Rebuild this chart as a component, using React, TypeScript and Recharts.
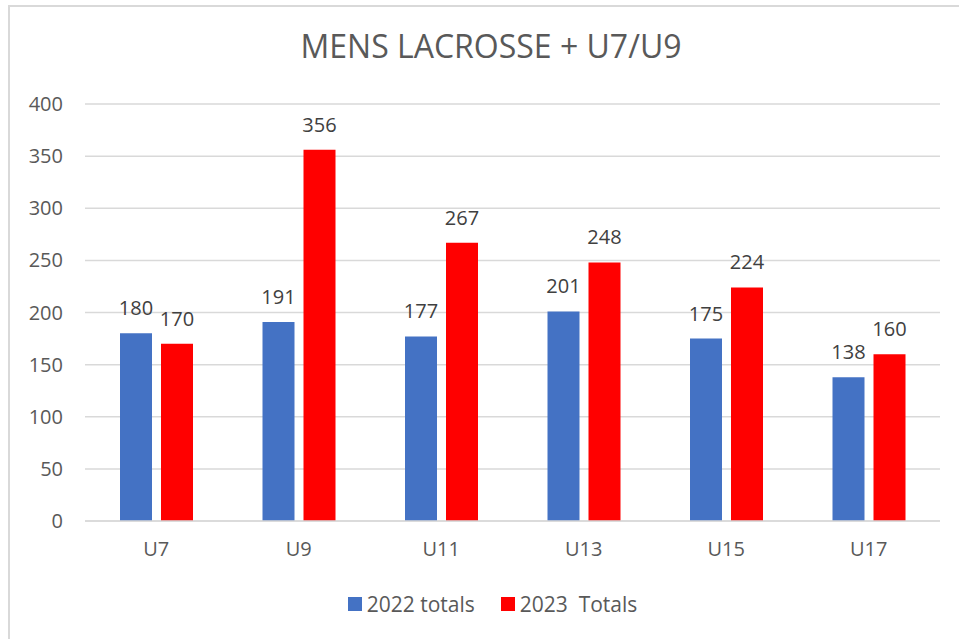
import React from 'react';
import { BarChart, Bar, XAxis, YAxis, CartesianGrid, LabelList } from 'recharts';

const categories = ['U7', 'U9', 'U11', 'U13', 'U15', 'U17'];
const totals2022 = [180, 191, 177, 201, 175, 138];
const totals2023 = [170, 356, 267, 248, 224, 160];
const yTicks = [0, 50, 100, 150, 200, 250, 300, 350, 400];

const series = [
  { key: 'y2022', name: '2022 totals', color: '#4472C4' },
  { key: 'y2023', name: '2023  Totals', color: '#FF0000' },
];

const data = categories.map((c, i) => ({ cat: c, y2022: totals2022[i], y2023: totals2023[i] }));

const FONT = '"Open Sans", Lato, sans-serif';
const TEXT = '#595959';

const LegendBox = () => (
  <div style={{ position: 'absolute', left: 0, top: 590, width: 959, display: 'flex', justifyContent: 'center', fontFamily: FONT, fontSize: 21, color: TEXT, paddingLeft: 26, boxSizing: 'border-box', lineHeight: '28px' }}>
    {series.map((s, i) => (
      <div key={s.key} style={{ display: 'flex', alignItems: 'center', marginLeft: i === 0 ? 0 : 26 }}>
        <span style={{ display: 'inline-block', width: 14, height: 14, background: s.color, marginRight: 5 }} />
        <span style={{ whiteSpace: 'pre' }}>{s.name}</span>
      </div>
    ))}
  </div>
);

export default function App() {
  return (
    <div style={{ position: 'absolute', left: 0, top: 0, width: 959, height: 639, background: '#fff', overflow: 'hidden' }}>
      <div style={{ position: 'absolute', left: 8, top: 5, width: 1000, height: 700, border: '2px solid #d9d9d9', boxSizing: 'border-box' }} />
      <div style={{ position: 'absolute', left: 0, top: 26, width: 982, textAlign: 'center', fontFamily: FONT, fontSize: 32, color: TEXT, lineHeight: '40px' }}>
        MENS LACROSSE + U7/U9
      </div>
      <div style={{ position: 'absolute', left: 0, top: 0 }}>
        <BarChart width={959} height={639} data={data} margin={{ top: 104, right: 19, bottom: 88, left: 0 }} barSize={32} barGap={9}>
          <CartesianGrid vertical={false} stroke="#d9d9d9" strokeWidth={1.5} />
          <XAxis dataKey="cat" height={30} axisLine={{ stroke: '#d9d9d9', strokeWidth: 1.5 }} tickLine={false} tickSize={0} tickMargin={21}
            tick={{ fill: TEXT, fontSize: 20, fontFamily: FONT }} />
          <YAxis width={85} domain={[0, 400]} ticks={yTicks} axisLine={false} tickLine={false} tickSize={0} tickMargin={22}
            tick={{ fill: TEXT, fontSize: 20, fontFamily: FONT }} />
          {series.map((s) => (
            <Bar key={s.key} dataKey={s.key} name={s.name} fill={s.color} isAnimationActive={false}>
              <LabelList dataKey={s.key} position="top" offset={18} fill="#404040" fontSize={20} fontFamily={FONT} />
            </Bar>
          ))}
        </BarChart>
      </div>
      <LegendBox />
    </div>
  );
}
